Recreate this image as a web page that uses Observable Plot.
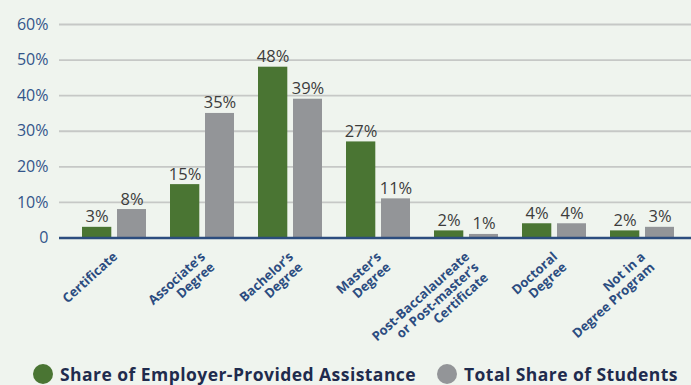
<!DOCTYPE html>
<html><head><meta charset="utf-8">
<script src="https://cdn.jsdelivr.net/npm/d3@7"></script>
<script src="https://cdn.jsdelivr.net/npm/@observablehq/plot@0.6"></script>
<style>
html,body{margin:0;padding:0;background:#eff4ee;}
#chart{width:691px;height:385px;position:relative;overflow:hidden;background:#eff4ee;}
#chart svg{display:block;}
.legend-item{position:absolute;top:362px;display:flex;align-items:center;font-family:'Open Sans',sans-serif;font-weight:700;font-size:17.5px;letter-spacing:0.45px;color:#1f2b4d;white-space:nowrap;}
.legend-item .dot{width:20px;height:20px;border-radius:50%;margin-right:7px;flex:none;}
</style></head><body><div id="chart"></div>
<script>
const categories = ["Certificate","Associate’s\nDegree","Bachelor’s\nDegree","Master’s\nDegree","Post-Baccalaureate\nor Post-master’s\nCertificate","Doctoral\nDegree","Not in a\nDegree Program"];
const series = ["Share of Employer-Provided Assistance","Total Share of Students"];
const employerShare = [3,15,48,27,2,4,2];
const studentShare = [8,35,39,11,1,4,3];
const yTicks = [0,10,20,30,40,50,60];
const seriesColors = ["#4a7533","#939598"];

const employer = categories.map((c,i)=>({category:c, series:series[0], value:employerShare[i]}));
const students = categories.map((c,i)=>({category:c, series:series[1], value:studentShare[i]}));

const plot = Plot.plot({
  width: 691, height: 345,
  marginLeft: 59, marginRight: 0, marginTop: 24, marginBottom: 107.5,
  style: {background: "transparent", fontFamily: "'Open Sans', sans-serif", overflow: "visible"},
  x: {domain: categories, paddingInner: 0.277, paddingOuter: 0.21, align: 0.566, axis: null},
  y: {domain: [0, 60], axis: null},
  marks: [
    Plot.ruleY(yTicks.filter(d => d > 0), {stroke: "#c6c8c6", strokeWidth: 1.8}),
    Plot.axisY(yTicks, {tickSize: 0, tickPadding: 11, label: null, fontSize: 16, fill: "#33558a",
      tickFormat: d => d === 0 ? "0" : d + "%"}),
    Plot.barY(employer, {x: "category", y: "value", fill: seriesColors[0], insetRight: 34.7}),
    Plot.barY(students, {x: "category", y: "value", fill: seriesColors[1], insetLeft: 35}),
    Plot.ruleY([0], {stroke: "#2c4d7e", strokeWidth: 2.5}),
    Plot.text(employer, {x: "category", y: "value", text: d => d.value + "%", dx: -17.4, dy: -5,
      lineAnchor: "bottom", fontSize: 16.5, fill: "#3c3c3c"}),
    Plot.text(students, {x: "category", y: "value", text: d => d.value + "%", dx: 17.5, dy: -5,
      lineAnchor: "bottom", fontSize: 16.5, fill: "#3c3c3c"}),
    Plot.text(categories, {x: d => d, text: d => d, frameAnchor: "bottom", rotate: -42,
      textAnchor: "end", lineAnchor: "top", dx: -3, dy: 12.5, fontSize: 13, fontWeight: "bold",
      fill: "#2b4c80", lineHeight: 1.08})
  ]
});
const chart = document.getElementById("chart");
chart.appendChild(plot);

const legendLeft = [33, 437];
series.forEach((s, i) => {
  const item = document.createElement("div");
  item.className = "legend-item";
  item.style.left = legendLeft[i] + "px";
  const dot = document.createElement("span");
  dot.className = "dot";
  dot.style.background = seriesColors[i];
  const label = document.createElement("span");
  label.textContent = s;
  item.appendChild(dot);
  item.appendChild(label);
  chart.appendChild(item);
});
</script>
</body></html>
